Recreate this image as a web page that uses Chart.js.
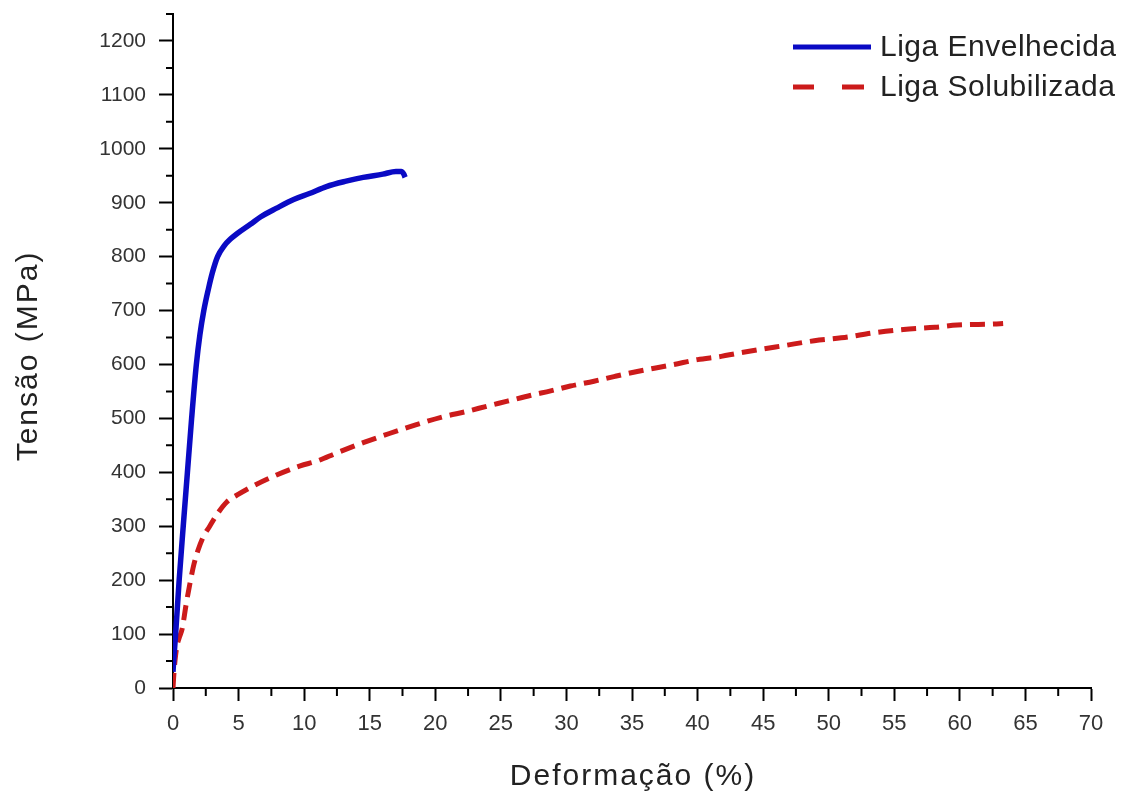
<!DOCTYPE html>
<html>
<head>
<meta charset="utf-8">
<script src="https://cdn.jsdelivr.net/npm/chart.js@4/dist/chart.umd.min.js"></script>
<style>
  html, body { margin: 0; padding: 0; background: #fff; }
  #wrap { width: 1142px; height: 794px; }
</style>
</head>
<body>
<div id="wrap"><canvas id="chart" width="1142" height="794"></canvas></div>
<script>
// Liga Envelhecida (strain %, stress MPa)
const envStrain = [0, 0.05, 0.2, 0.47, 0.78, 1.1, 1.42, 1.78, 2.05, 2.35, 2.7, 3.0, 3.4, 3.9, 4.4, 4.9, 5.9, 6.7, 7.9, 9.2, 10.4, 11.7, 13.2, 14.5, 16.0, 17.0, 17.4, 17.6, 17.7];
const envStress = [30, 50, 100, 200, 300, 400, 500, 600, 655, 700, 740, 770, 800, 820, 833, 843, 860, 874, 890, 906, 917, 930, 940, 947, 953, 958, 958, 953, 947];

// Liga Solubilizada
const solStrain = [0, 0.05, 0.15, 0.3, 0.5, 0.7, 1.0, 1.3, 1.6, 1.9, 2.3, 2.8, 3.3, 4.1, 4.9, 5.9, 7.6, 9.7, 11.0, 12.5, 14.5, 16.5, 18.5, 20.6, 22.4, 24.0, 25.5, 27.3, 28.8, 30.3, 32.1, 33.7, 35.4, 36.7, 38.2, 40.0, 41.8, 43.1, 44.8, 46.6, 48.9, 51.5, 53.2, 55.7, 58.1, 59.8, 62.6, 63.3];
const solStress = [0, 20, 50, 78, 95, 110, 155, 195, 230, 255, 280, 300, 320, 345, 358, 372, 392, 412, 421, 436, 455, 472, 488, 503, 513, 523, 532, 543, 551, 560, 569, 578, 587, 593, 600, 609, 615, 621, 628, 635, 644, 651, 658, 665, 669, 673, 675, 676];

const seriesNames = ['Liga Envelhecida', 'Liga Solubilizada'];
const xTitle = 'Deformação (%)';
const yTitle = 'Tensão (MPa)';
const blue = '#0a0ac4';
const red = '#cc1b1b';
const textColor = '#222';
const fontFamily = '"Liberation Sans", Arial, sans-serif';

const toPoints = (xs, ys) => xs.map((x, i) => ({ x: x, y: ys[i] }));

// minor ticks, axis titles and legend
const extras = {
  id: 'extras',
  afterDraw(chart) {
    const ctx = chart.ctx;
    const xs = chart.scales.x, ys = chart.scales.y;
    const area = chart.chartArea;
    ctx.save();
    ctx.strokeStyle = '#000';
    ctx.lineWidth = 2;
    ctx.beginPath();
    for (let v = 2.5; v < 70; v += 5) {
      const px = xs.getPixelForValue(v);
      ctx.moveTo(px, area.bottom);
      ctx.lineTo(px, area.bottom + 8);
    }
    for (let v = 50; v <= 1250; v += 100) {
      const py = ys.getPixelForValue(v);
      ctx.moveTo(area.left, py);
      ctx.lineTo(area.left - 7, py);
    }
    ctx.stroke();

    // axis titles
    ctx.fillStyle = textColor;
    ctx.font = '30px ' + fontFamily;
    ctx.letterSpacing = '2px';
    ctx.textAlign = 'center';
    ctx.textBaseline = 'alphabetic';
    ctx.fillText(xTitle, (area.left + area.right) / 2 + 1, 785);
    ctx.save();
    ctx.translate(37, (area.top + area.bottom) / 2 + 5);
    ctx.rotate(-Math.PI / 2);
    ctx.fillText(yTitle, 0, 0);
    ctx.restore();

    // legend
    const lx = area.right - 298;
    const tx = area.right - 211;
    const y1 = area.top + 33, y2 = area.top + 73;
    ctx.lineWidth = 5;
    ctx.strokeStyle = blue;
    ctx.beginPath();
    ctx.moveTo(lx, y1); ctx.lineTo(lx + 78, y1);
    ctx.stroke();
    ctx.strokeStyle = red;
    ctx.beginPath();
    ctx.moveTo(lx, y2); ctx.lineTo(lx + 21, y2);
    ctx.moveTo(lx + 49, y2); ctx.lineTo(lx + 71, y2);
    ctx.stroke();
    ctx.letterSpacing = '0.5px';
    ctx.textAlign = 'left';
    ctx.textBaseline = 'middle';
    ctx.fillText(seriesNames[0], tx, y1 + 1);
    ctx.fillText(seriesNames[1], tx, y2 + 1);
    ctx.restore();
  }
};

new Chart(document.getElementById('chart'), {
  type: 'line',
  data: {
    datasets: [
      {
        label: seriesNames[0],
        data: toPoints(envStrain, envStress),
        borderColor: blue,
        borderWidth: 5.5,
        borderJoinStyle: 'round',
        cubicInterpolationMode: 'monotone',
        pointRadius: 0,
        fill: false
      },
      {
        label: seriesNames[1],
        data: toPoints(solStrain, solStress),
        borderColor: red,
        borderWidth: 5,
        borderDash: [15, 8],
        cubicInterpolationMode: 'monotone',
        pointRadius: 0,
        fill: false
      }
    ]
  },
  options: {
    responsive: false,
    animation: false,
    devicePixelRatio: 1,
    layout: { padding: { top: 14, right: 51, left: 0, bottom: 0 } },
    plugins: {
      legend: { display: false },
      tooltip: { enabled: false }
    },
    scales: {
      x: {
        type: 'linear',
        min: 0,
        max: 70,
        afterFit: (scale) => {
          scale.height = 106;
          scale.paddingLeft = 0;
          scale.paddingRight = 0;
        },
        ticks: {
          stepSize: 5,
          color: '#333',
          padding: 10,
          maxRotation: 0,
          font: { family: fontFamily, size: 22 }
        },
        grid: { drawOnChartArea: false, drawTicks: true, tickLength: 13, tickColor: '#000', tickWidth: 2 },
        border: { display: true, color: '#000', width: 2 }
      },
      y: {
        min: 0,
        max: 1250,
        afterFit: (scale) => {
          scale.width = 173;
          scale.paddingTop = 0;
          scale.paddingBottom = 0;
        },
        afterBuildTicks: (scale) => { scale.ticks = scale.ticks.filter(t => t.value % 100 === 0); },
        ticks: {
          stepSize: 100,
          color: '#333',
          padding: 13,
          callback: (v) => String(v),
          font: { family: fontFamily, size: 21 }
        },
        grid: { drawOnChartArea: false, drawTicks: true, tickLength: 14, tickColor: '#000', tickWidth: 2 },
        border: { display: true, color: '#000', width: 2 }
      }
    }
  },
  plugins: [extras]
});
</script>
</body>
</html>
